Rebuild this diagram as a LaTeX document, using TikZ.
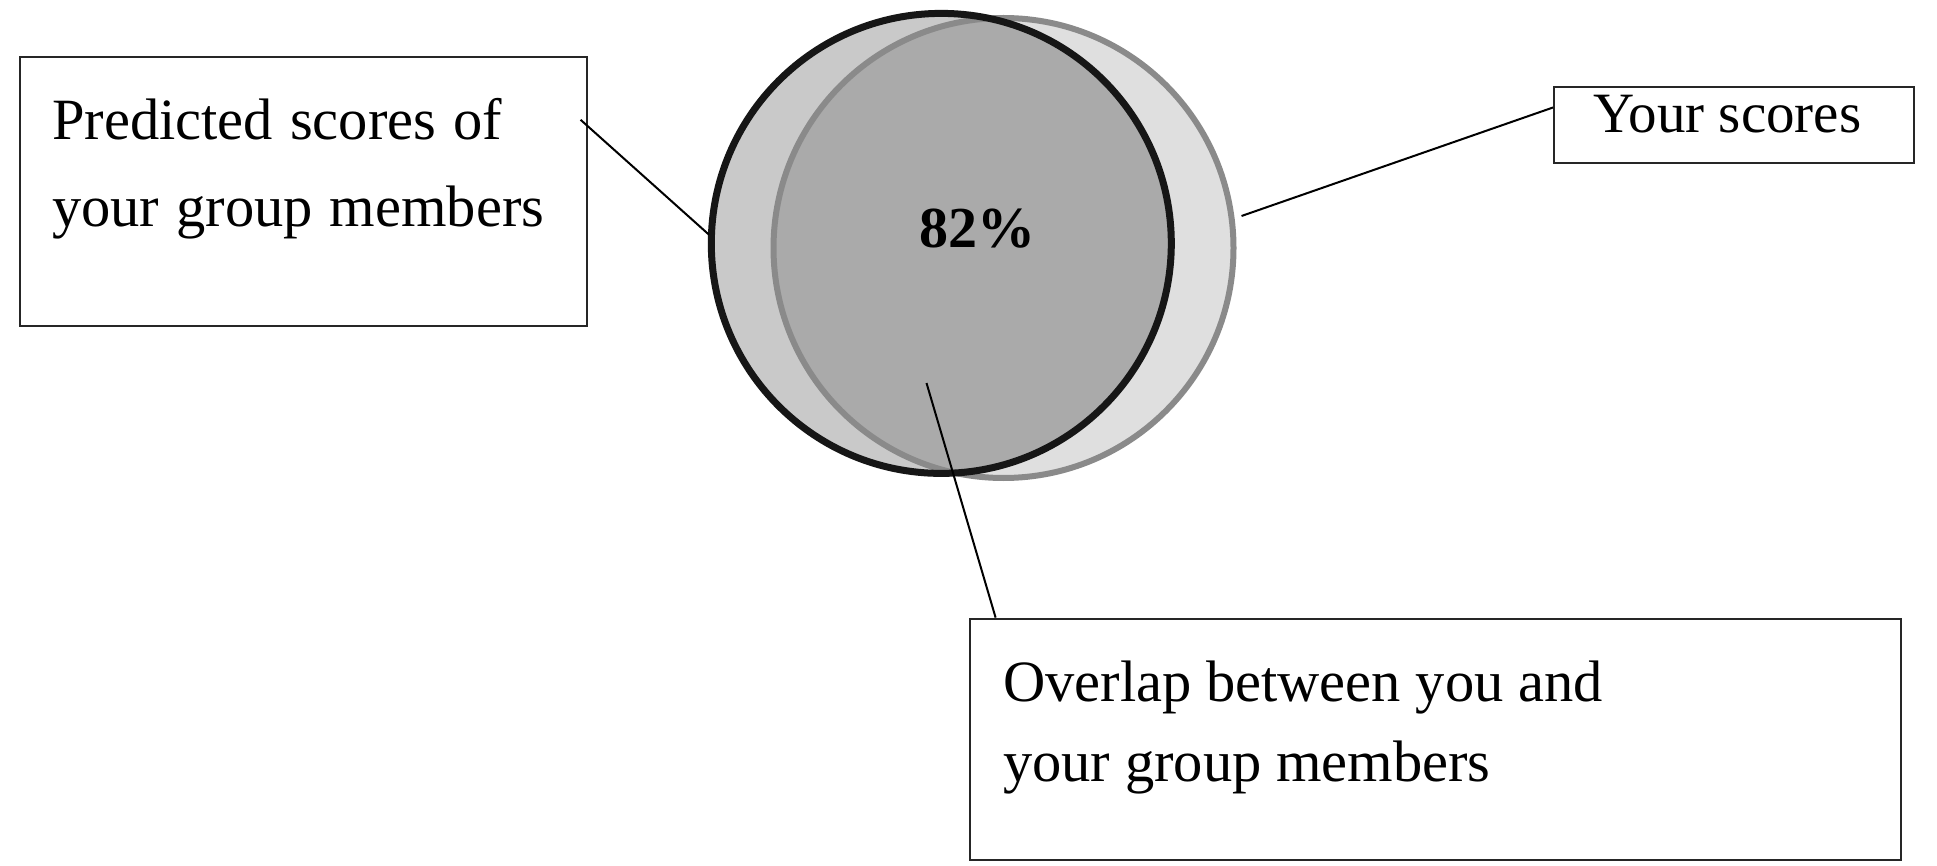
\documentclass[tikz,border=0pt]{standalone}
\usepackage{fontspec}
\setmainfont{Liberation Serif}
\definecolor{leftfill}{HTML}{C9C9C9}
\definecolor{rightfill}{HTML}{DFDFDF}
\definecolor{midfill}{HTML}{AAAAAA}
\definecolor{yourline}{HTML}{8A8A8A}
\definecolor{predline}{HTML}{161616}
\newcommand{\widewords}{\spaceskip=0.29em\relax}
\begin{document}
\begin{tikzpicture}[x=1pt,y=-1pt,
  box/.style={draw=black!85, line width=2pt, rectangle, inner sep=0pt, anchor=north west},
  lbl/.style={anchor=base west, inner sep=0pt, font=\fontsize{58.5}{68}\selectfont},
  widelbl/.style={lbl, font=\fontsize{58.5}{68}\selectfont\widewords},
  conn/.style={line width=2pt, black}]
\useasboundingbox (0,0) rectangle (1937,866);
\fill[white] (0,0) rectangle (1937,866);

\coordinate (P) at (941.3,243.4);
\coordinate (Y) at (1003.5,248);

% fills
\fill[leftfill] (P) circle (230pt);
\fill[rightfill] (Y) circle (230pt);
\begin{scope}
  \clip (P) circle (230pt);
  \fill[midfill] (Y) circle (230pt);
\end{scope}

% outlines
\node[circle, draw=yourline, line width=6pt, minimum size=460pt, inner sep=0pt] (your) at (Y) {};
\node[circle, draw=predline, line width=7pt, minimum size=460pt, inner sep=0pt] (pred) at (P) {};

\node[font=\fontsize{58}{68}\selectfont\bfseries] (pct) at (977,229) {82\%};

% boxes
\node[box, minimum width=567pt, minimum height=269.4pt] (predbox) at (18.5,55.6) {};
\node[box, minimum width=360pt, minimum height=75.5pt] (yourbox) at (1553,86.5) {};
\node[box, minimum width=931.5pt, minimum height=241pt] (ovbox) at (968.5,617.6) {};

% texts
\node[widelbl] (predt1) at (52,140) {Predicted scores of};
\node[widelbl] (predt2) at (52,227) {your group members};
\node[lbl, font=\fontsize{57}{68}\selectfont] (yourt) at (1593,133) {Your scores};
\node[lbl] (ovt1) at (1003,701) {Overlap between you and};
\node[lbl] (ovt2) at (1003,781) {your group members};

% connectors
\coordinate (lstart) at (580.6,119.8);
\coordinate (lend) at (709,234.7);
\coordinate (rstart) at (1241.5,216);
\coordinate (rend) at (1553,107.5);
\coordinate (bstart) at (926.5,383);
\coordinate (bend) at (995.6,617.6);
\draw[conn] (lstart) -- (lend);
\draw[conn] (rstart) -- (rend);
\draw[conn] (bstart) -- (bend);
\end{tikzpicture}
\end{document}
